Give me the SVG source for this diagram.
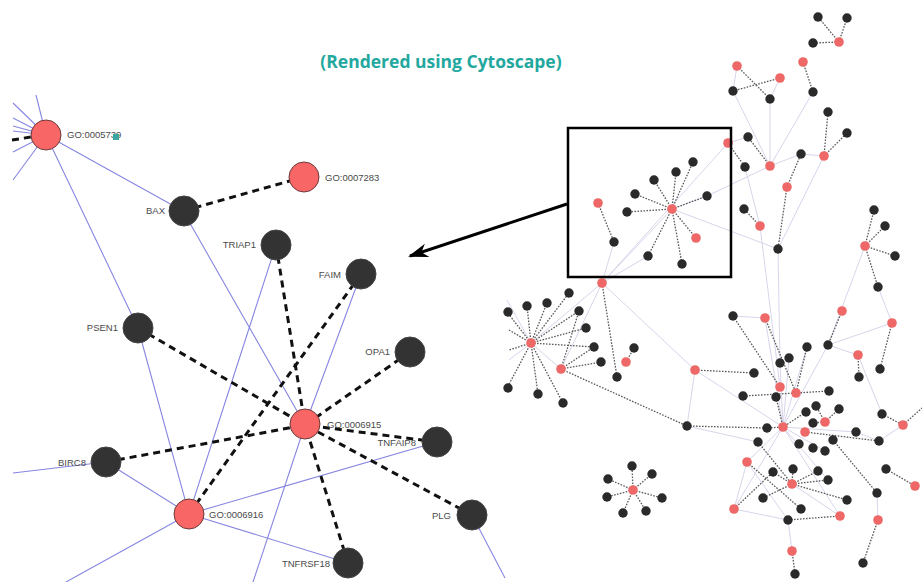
<svg xmlns="http://www.w3.org/2000/svg" width="922" height="582" viewBox="0 0 922 582">
<style>
.bl{stroke:#8686e2;stroke-width:1.1;fill:none}
.dk{stroke:#111;stroke-width:3;stroke-dasharray:7 5;fill:none}
.rr{fill:#f96666;stroke:#6a3a3a;stroke-width:1}
.bk{fill:#333;stroke:#444;stroke-width:1}
.lb{font-family:"Liberation Sans",Arial,sans-serif;font-size:9.5px;fill:#4a4a4a}
.lr{text-anchor:end}
.sl{stroke:#d6d6ec;stroke-width:1;fill:none}
.sd{stroke:#5a5a5a;stroke-width:1.3;stroke-dasharray:1.6 1.4;fill:none}
.sr{fill:#ee6868}
.sb{fill:#2a2a2a}
</style>
<defs>
<marker id="ah" markerUnits="userSpaceOnUse" markerWidth="22" markerHeight="16" refX="18" refY="7" orient="auto">
<path d="M0,0 L20,7 L0,14 L6,7 z" fill="#000"/>
</marker>
</defs>
<rect width="922" height="582" fill="#fff"/>
<text x="441" y="68" text-anchor="middle" font-family="'Open Sans','Liberation Sans',sans-serif" font-weight="bold" font-size="17.5" fill="#23a8a0">(Rendered using Cytoscape)</text>

<!-- left panel connectors -->
<g id="connectors">
<path class="bl" d="M46,135 L36,95 M46,135 L13,103 M46,135 L13,118 M46,135 L13,126 M46,135 L13,131 M46,135 L13,152 M46,135 L13,180"/>
<path class="bl" d="M46,135 L183,211 M46,135 L138,328 M183,211 L305,425 M361,274 L305,425 L253,582 M138,328 L189,514 M276,245 L189,514 M106,462 L189,514 M106,462 L13,473 M189,514 L437,442 M189,514 L348,563 M189,514 L66,582 M472,515 L505,578"/>
<path class="dk" d="M12,140 L31,137"/>
<path class="dk" d="M183,211 L304,177"/>
<path class="dk" d="M276,245 L305,425"/>
<path class="dk" d="M361,274 L189,514"/>
<path class="dk" d="M138,328 L305,425"/>
<path class="dk" d="M410,352 L305,425"/>
<path class="dk" d="M106,462 L305,425"/>
<path class="dk" d="M437,442 L305,425"/>
<path class="dk" d="M472,515 L305,425"/>
<path class="dk" d="M348,563 L305,425"/>
</g>

<g id="GO0005739"><circle class="rr" cx="46" cy="135" r="15"/><text class="lb" x="67" y="138">GO:0005739</text><rect x="113" y="134" width="6" height="6" fill="#3aa6a0"/></g>
<g id="BAX"><circle class="bk" cx="184" cy="211" r="15"/><text class="lb lr" x="165" y="214">BAX</text></g>
<g id="GO0007283"><circle class="rr" cx="304" cy="177" r="15"/><text class="lb" x="325" y="181">GO:0007283</text></g>
<g id="TRIAP1"><circle class="bk" cx="276" cy="245" r="15"/><text class="lb lr" x="256" y="248">TRIAP1</text></g>
<g id="FAIM"><circle class="bk" cx="361" cy="274" r="15"/><text class="lb lr" x="341" y="278">FAIM</text></g>
<g id="PSEN1"><circle class="bk" cx="138" cy="328" r="15"/><text class="lb lr" x="118" y="331">PSEN1</text></g>
<g id="OPA1"><circle class="bk" cx="410" cy="352" r="15"/><text class="lb lr" x="390" y="355">OPA1</text></g>
<g id="GO0006915"><circle class="rr" cx="305" cy="424" r="15"/><text class="lb" x="327" y="428">GO:0006915</text></g>
<g id="TNFAIP8"><circle class="bk" cx="437" cy="442" r="15"/><text class="lb lr" x="416" y="446">TNFAIP8</text></g>
<g id="BIRC8"><circle class="bk" cx="106" cy="462" r="15"/><text class="lb lr" x="86" y="466">BIRC8</text></g>
<g id="GO0006916"><circle class="rr" cx="189" cy="514" r="15"/><text class="lb" x="209" y="518">GO:0006916</text></g>
<g id="PLG"><circle class="bk" cx="472" cy="515" r="15"/><text class="lb lr" x="451" y="519">PLG</text></g>
<g id="TNFRSF18"><circle class="bk" cx="348" cy="563" r="15"/><text class="lb lr" x="330" y="567">TNFRSF18</text></g>

<!-- overview network edges -->
<g id="net-connectors">
<path class="sl" d="M737,66 L733,91 M780,78 L770,99 M733,91 L770,166 M770,99 L770,166 M813,92 L770,166 M770,166 L801,154 L824,156 M728,143 L602,283 M770,166 L707,196 M745,167 L760,226 M824,156 L778,249 M672,209 L778,249 M602,283 L672,209 M602,283 L531,343 M602,283 L561,369 M602,283 L695,370 M602,283 L648,256 M614,242 L602,283 M695,370 L783,427 M733,316 L765,318 L783,427 M778,249 L780,363 M760,226 L780,387 M828,345 L892,323 M828,345 L858,355 M865,246 L828,345 L783,427 M783,427 L807,347 M783,427 L789,358 M783,427 L780,363 M783,427 L747,462 M783,427 L734,509 M747,462 L734,509 M734,509 L788,520 L792,551 M788,520 L747,462 M783,427 L825,451 M783,427 L856,432 L879,441 L903,425 M877,493 L878,520 M878,287 L892,323 M858,355 L882,414 M687,426 L758,442 M531,343 L507,300 M531,343 L509,360 M531,343 L561,369 M728,143 L748,137 M695,370 L687,426 M707,196 L672,209 M783,427 L840,516 M792,484 L840,516 M783,427 L828,480"/>
<path class="sd" d="M839,42 L818,17 M839,42 L847,18 M839,42 L813,43 M803,62 L813,92 M737,66 L770,99 M780,78 L733,91 M824,156 L828,112 M824,156 L847,133 M770,166 L748,137 M728,143 L745,167 M787,187 L801,154 M787,187 L778,249 M760,226 L744,209 M865,246 L874,210 M865,246 L885,226 M865,246 L895,256 M865,246 L878,287"/>
<path class="sd" d="M672,209 L693,162 M672,209 L676,172 M672,209 L654,180 M672,209 L635,194 M672,209 L627,212 M672,209 L707,196 M672,209 L696,238 M672,209 L648,256 M672,209 L682,264 M598,203 L614,242"/>
<path class="sd" d="M602,283 L617,377 M531,343 L569,293 M531,343 L547,303 M531,343 L527,306 M531,343 L507,312 M531,343 L579,311 M531,343 L586,328 M531,343 L594,347 M531,343 L507,388 M531,343 L538,394 M531,343 L563,403 M531,343 L509,330 M531,343 L509,350 M561,369 L601,362 M561,369 L594,347 M561,369 L579,311 M561,369 L687,426 M626,362 L634,348 M695,370 L754,373 M687,426 L767,428 L783,427"/>
<path class="sd" d="M733,316 L780,387 M765,318 L796,393 M842,311 L828,345 M892,323 L880,369 M858,355 L859,377 M807,347 L796,393 M743,396 L796,393 M829,391 L796,393 M825,422 L816,406 M825,422 L839,409 M825,422 L813,423 M882,414 L903,425 L922,408 M806,412 L783,427 M776,397 L783,427 M833,440 L877,493 M886,469 L915,486 M878,520 L863,563 M805,432 L879,441"/>
<path class="sd" d="M792,484 L773,472 M792,484 L793,469 M792,484 L818,471 M792,484 L828,480 M792,484 L847,500 M792,484 L763,498 M758,442 L792,484 M734,509 L773,472 M788,520 L840,516 M792,551 L795,574 M747,462 L801,509"/>
<path class="sd" d="M633,490 L632,466 M633,490 L652,474 M633,490 L608,479 M633,490 L607,497 M633,490 L662,498 M633,490 L623,513 M633,490 L646,511"/>
</g>

<!-- overview network nodes -->
<g id="net-red" class="sr">
<g id="r1"><circle cx="839" cy="42" r="4.8"/></g>
<g id="r2"><circle cx="803" cy="62" r="4.8"/></g>
<g id="r3"><circle cx="737" cy="66" r="4.8"/></g>
<g id="r4"><circle cx="780" cy="78" r="4.8"/></g>
<g id="r5"><circle cx="728" cy="143" r="4.8"/></g>
<g id="r6"><circle cx="770" cy="166" r="4.8"/></g>
<g id="r7"><circle cx="824" cy="156" r="4.8"/></g>
<g id="r8"><circle cx="787" cy="187" r="4.8"/></g>
<g id="r9"><circle cx="760" cy="226" r="4.8"/></g>
<g id="r10"><circle cx="865" cy="246" r="4.8"/></g>
<g id="r11"><circle cx="672" cy="209" r="4.8"/></g>
<g id="r12"><circle cx="598" cy="203" r="4.8"/></g>
<g id="r13"><circle cx="696" cy="238" r="4.8"/></g>
<g id="r14"><circle cx="602" cy="283" r="4.8"/></g>
<g id="r15"><circle cx="531" cy="343" r="4.8"/></g>
<g id="r16"><circle cx="561" cy="369" r="4.8"/></g>
<g id="r17"><circle cx="626" cy="362" r="4.8"/></g>
<g id="r18"><circle cx="695" cy="370" r="4.8"/></g>
<g id="r19"><circle cx="765" cy="318" r="4.8"/></g>
<g id="r20"><circle cx="842" cy="311" r="4.8"/></g>
<g id="r21"><circle cx="892" cy="323" r="4.8"/></g>
<g id="r22"><circle cx="858" cy="355" r="4.8"/></g>
<g id="r23"><circle cx="780" cy="387" r="4.8"/></g>
<g id="r24"><circle cx="796" cy="393" r="4.8"/></g>
<g id="r25"><circle cx="825" cy="422" r="4.8"/></g>
<g id="r26"><circle cx="783" cy="427" r="4.8"/></g>
<g id="r27"><circle cx="805" cy="432" r="4.8"/></g>
<g id="r28"><circle cx="903" cy="425" r="4.8"/></g>
<g id="r29"><circle cx="747" cy="462" r="4.8"/></g>
<g id="r30"><circle cx="792" cy="484" r="4.8"/></g>
<g id="r31"><circle cx="734" cy="509" r="4.8"/></g>
<g id="r32"><circle cx="840" cy="516" r="4.8"/></g>
<g id="r33"><circle cx="792" cy="551" r="4.8"/></g>
<g id="r34"><circle cx="915" cy="486" r="4.8"/></g>
<g id="r35"><circle cx="878" cy="520" r="4.8"/></g>
<g id="r36"><circle cx="633" cy="490" r="4.8"/></g>
</g>
<g id="net-black" class="sb">
<g id="b1"><circle cx="818" cy="17" r="4.7"/></g>
<g id="b2"><circle cx="847" cy="18" r="4.7"/></g>
<g id="b3"><circle cx="813" cy="43" r="4.7"/></g>
<g id="b4"><circle cx="733" cy="91" r="4.7"/></g>
<g id="b5"><circle cx="770" cy="99" r="4.7"/></g>
<g id="b6"><circle cx="813" cy="92" r="4.7"/></g>
<g id="b7"><circle cx="828" cy="112" r="4.7"/></g>
<g id="b8"><circle cx="847" cy="133" r="4.7"/></g>
<g id="b9"><circle cx="748" cy="137" r="4.7"/></g>
<g id="b10"><circle cx="745" cy="167" r="4.7"/></g>
<g id="b11"><circle cx="801" cy="154" r="4.7"/></g>
<g id="b12"><circle cx="744" cy="209" r="4.7"/></g>
<g id="b13"><circle cx="778" cy="249" r="4.7"/></g>
<g id="b14"><circle cx="874" cy="210" r="4.7"/></g>
<g id="b15"><circle cx="885" cy="226" r="4.7"/></g>
<g id="b16"><circle cx="895" cy="256" r="4.7"/></g>
<g id="b17"><circle cx="878" cy="287" r="4.7"/></g>
<g id="b18"><circle cx="693" cy="162" r="4.7"/></g>
<g id="b19"><circle cx="676" cy="172" r="4.7"/></g>
<g id="b20"><circle cx="654" cy="180" r="4.7"/></g>
<g id="b21"><circle cx="635" cy="194" r="4.7"/></g>
<g id="b22"><circle cx="627" cy="212" r="4.7"/></g>
<g id="b23"><circle cx="707" cy="196" r="4.7"/></g>
<g id="b24"><circle cx="614" cy="242" r="4.7"/></g>
<g id="b25"><circle cx="648" cy="256" r="4.7"/></g>
<g id="b26"><circle cx="682" cy="264" r="4.7"/></g>
<g id="b27"><circle cx="569" cy="293" r="4.7"/></g>
<g id="b28"><circle cx="527" cy="306" r="4.7"/></g>
<g id="b29"><circle cx="547" cy="303" r="4.7"/></g>
<g id="b30"><circle cx="579" cy="311" r="4.7"/></g>
<g id="b31"><circle cx="586" cy="328" r="4.7"/></g>
<g id="b32"><circle cx="508" cy="312" r="4.7"/></g>
<g id="b33"><circle cx="508" cy="388" r="4.7"/></g>
<g id="b34"><circle cx="538" cy="394" r="4.7"/></g>
<g id="b35"><circle cx="563" cy="403" r="4.7"/></g>
<g id="b36"><circle cx="594" cy="347" r="4.7"/></g>
<g id="b37"><circle cx="601" cy="362" r="4.7"/></g>
<g id="b38"><circle cx="634" cy="348" r="4.7"/></g>
<g id="b39"><circle cx="617" cy="377" r="4.7"/></g>
<g id="b40"><circle cx="754" cy="373" r="4.7"/></g>
<g id="b41"><circle cx="733" cy="316" r="4.7"/></g>
<g id="b42"><circle cx="807" cy="347" r="4.7"/></g>
<g id="b43"><circle cx="828" cy="345" r="4.7"/></g>
<g id="b44"><circle cx="859" cy="377" r="4.7"/></g>
<g id="b45"><circle cx="880" cy="369" r="4.7"/></g>
<g id="b46"><circle cx="789" cy="358" r="4.7"/></g>
<g id="b47"><circle cx="780" cy="363" r="4.7"/></g>
<g id="b48"><circle cx="829" cy="391" r="4.7"/></g>
<g id="b49"><circle cx="743" cy="396" r="4.7"/></g>
<g id="b50"><circle cx="776" cy="397" r="4.7"/></g>
<g id="b51"><circle cx="816" cy="406" r="4.7"/></g>
<g id="b52"><circle cx="839" cy="409" r="4.7"/></g>
<g id="b53"><circle cx="806" cy="412" r="4.7"/></g>
<g id="b54"><circle cx="813" cy="423" r="4.7"/></g>
<g id="b55"><circle cx="882" cy="414" r="4.7"/></g>
<g id="b56"><circle cx="687" cy="426" r="4.7"/></g>
<g id="b57"><circle cx="767" cy="428" r="4.7"/></g>
<g id="b58"><circle cx="856" cy="432" r="4.7"/></g>
<g id="b59"><circle cx="879" cy="441" r="4.7"/></g>
<g id="b60"><circle cx="758" cy="442" r="4.7"/></g>
<g id="b61"><circle cx="799" cy="444" r="4.7"/></g>
<g id="b62"><circle cx="813" cy="448" r="4.7"/></g>
<g id="b63"><circle cx="825" cy="451" r="4.7"/></g>
<g id="b64"><circle cx="833" cy="440" r="4.7"/></g>
<g id="b65"><circle cx="773" cy="472" r="4.7"/></g>
<g id="b66"><circle cx="793" cy="469" r="4.7"/></g>
<g id="b67"><circle cx="818" cy="471" r="4.7"/></g>
<g id="b68"><circle cx="828" cy="480" r="4.7"/></g>
<g id="b69"><circle cx="847" cy="500" r="4.7"/></g>
<g id="b70"><circle cx="763" cy="498" r="4.7"/></g>
<g id="b71"><circle cx="801" cy="509" r="4.7"/></g>
<g id="b72"><circle cx="788" cy="520" r="4.7"/></g>
<g id="b73"><circle cx="795" cy="574" r="4.7"/></g>
<g id="b74"><circle cx="886" cy="469" r="4.7"/></g>
<g id="b75"><circle cx="877" cy="493" r="4.7"/></g>
<g id="b76"><circle cx="863" cy="563" r="4.7"/></g>
<g id="b77"><circle cx="632" cy="466" r="4.7"/></g>
<g id="b78"><circle cx="652" cy="474" r="4.7"/></g>
<g id="b79"><circle cx="608" cy="479" r="4.7"/></g>
<g id="b80"><circle cx="607" cy="497" r="4.7"/></g>
<g id="b81"><circle cx="662" cy="498" r="4.7"/></g>
<g id="b82"><circle cx="623" cy="513" r="4.7"/></g>
<g id="b83"><circle cx="646" cy="511" r="4.7"/></g>
</g>

<!-- zoom box and arrow -->
<g id="zoombox"><rect x="568" y="128" width="163" height="149" fill="none" stroke="#000" stroke-width="2.5"/></g>
<g id="arrow"><path d="M567,204 L410,256" stroke="#000" stroke-width="3" fill="none" marker-end="url(#ah)"/></g>
</svg>
